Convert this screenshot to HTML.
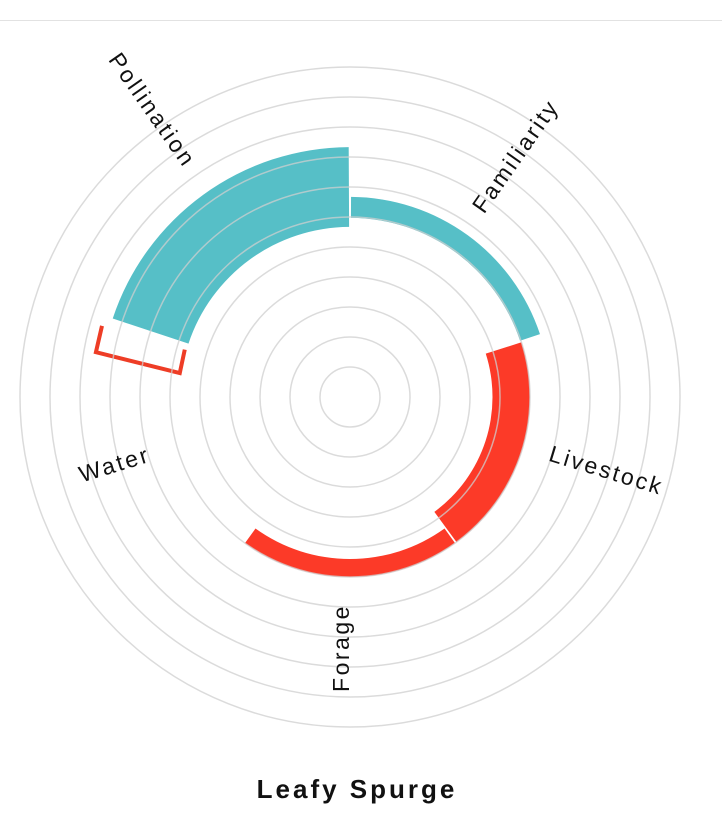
<!DOCTYPE html>
<html><head><meta charset="utf-8"><style>
html,body{margin:0;padding:0;background:#fff;width:722px;height:838px;overflow:hidden}
svg{display:block}
text{font-family:"Liberation Sans",sans-serif}
</style></head><body>
<svg id="chart" width="722" height="838">
<line x1="0" y1="20.5" x2="722" y2="20.5" stroke="#e2e2e2" stroke-width="1"/>
<g id="bars"></g>
<g id="grid"></g>
<g id="labels"></g>
<text x="357" y="798" text-anchor="middle" font-size="26" font-weight="bold" letter-spacing="3" fill="#111">Leafy Spurge</text>
</svg>
<script>
const categories = ["Familiarity","Livestock","Forage","Water","Pollination"];
const innerVals = [5.97, 4.75, 5.4, 0, 5.67];
const outerVals = [6.67, 6.0, 6.0, 0, 8.33];
const colors = ["#56bfc7","#fc3a28","#fc3a28","#fc3a28","#56bfc7"];
const waterRange = [5.73, 8.6];
const ringCount = 11;
const labelPos = [[517,157,-55],[606,472,17],[343,648,-90],[115,466,-17],[151,111,55]];

const cx=350, cy=397, unit=30, NS="http://www.w3.org/2000/svg";
const rScale = v => v*unit;
const aScale = i => i*72;
function pt(r,deg){const a=deg*Math.PI/180;return [cx+r*Math.sin(a), cy-r*Math.cos(a)];}
function arc(r0,r1,a0,a1){
  const p1=pt(r1,a0),p2=pt(r1,a1),p3=pt(r0,a1),p4=pt(r0,a0);
  const lg=(a1-a0)>180?1:0;
  return `M${p1} A${r1},${r1} 0 ${lg} 1 ${p2} L${p3} A${r0},${r0} 0 ${lg} 0 ${p4} Z`;
}
const bars=document.getElementById('bars');
categories.forEach((c,i)=>{
  if(outerVals[i]<=innerVals[i]) return;
  const p=document.createElementNS(NS,'path');
  p.setAttribute('d',arc(rScale(innerVals[i]),rScale(outerVals[i]),aScale(i)+0.3,aScale(i+1)-0.3));
  p.setAttribute('fill',colors[i]);
  
  
  bars.appendChild(p);
});
{
  const i=3, t=aScale(i+1)-2;
  const r0=rScale(waterRange[0]), r1=rScale(waterRange[1]);
  const pts=[pt(r1,t),pt(r1,aScale(i+1)-8),pt(r0,aScale(i+1)-10),pt(r0,t)];
  const pl=document.createElementNS(NS,'polyline');
  pl.setAttribute('points',pts.map(p=>p.join(',')).join(' '));
  pl.setAttribute('fill','none');
  pl.setAttribute('stroke','#ee3d26');
  pl.setAttribute('stroke-width','4');
  
  
  bars.appendChild(pl);
}
const grid=document.getElementById('grid');
for(let k=1;k<=ringCount;k++){
  const c=document.createElementNS(NS,'circle');
  c.setAttribute('cx',cx);c.setAttribute('cy',cy);c.setAttribute('r',rScale(k));
  c.setAttribute('fill','none');c.setAttribute('stroke','#cfcfcf');
  c.setAttribute('stroke-opacity','0.75');c.setAttribute('stroke-width','1.5');
  
  
  grid.appendChild(c);
}
const labels=document.getElementById('labels');
categories.forEach((c,i)=>{
  const [x,y,rot]=labelPos[i];
  const t=document.createElementNS(NS,'text');
  t.setAttribute('x',x);t.setAttribute('y',y);
  t.setAttribute('text-anchor','middle');t.setAttribute('dominant-baseline','middle');
  t.setAttribute('font-size','23');t.setAttribute('letter-spacing','2.5');
  t.setAttribute('fill','#111');
  t.setAttribute('transform',`rotate(${rot} ${x} ${y})`);
  t.textContent=c;
  
  
  labels.appendChild(t);
});
</script>
</body></html>
